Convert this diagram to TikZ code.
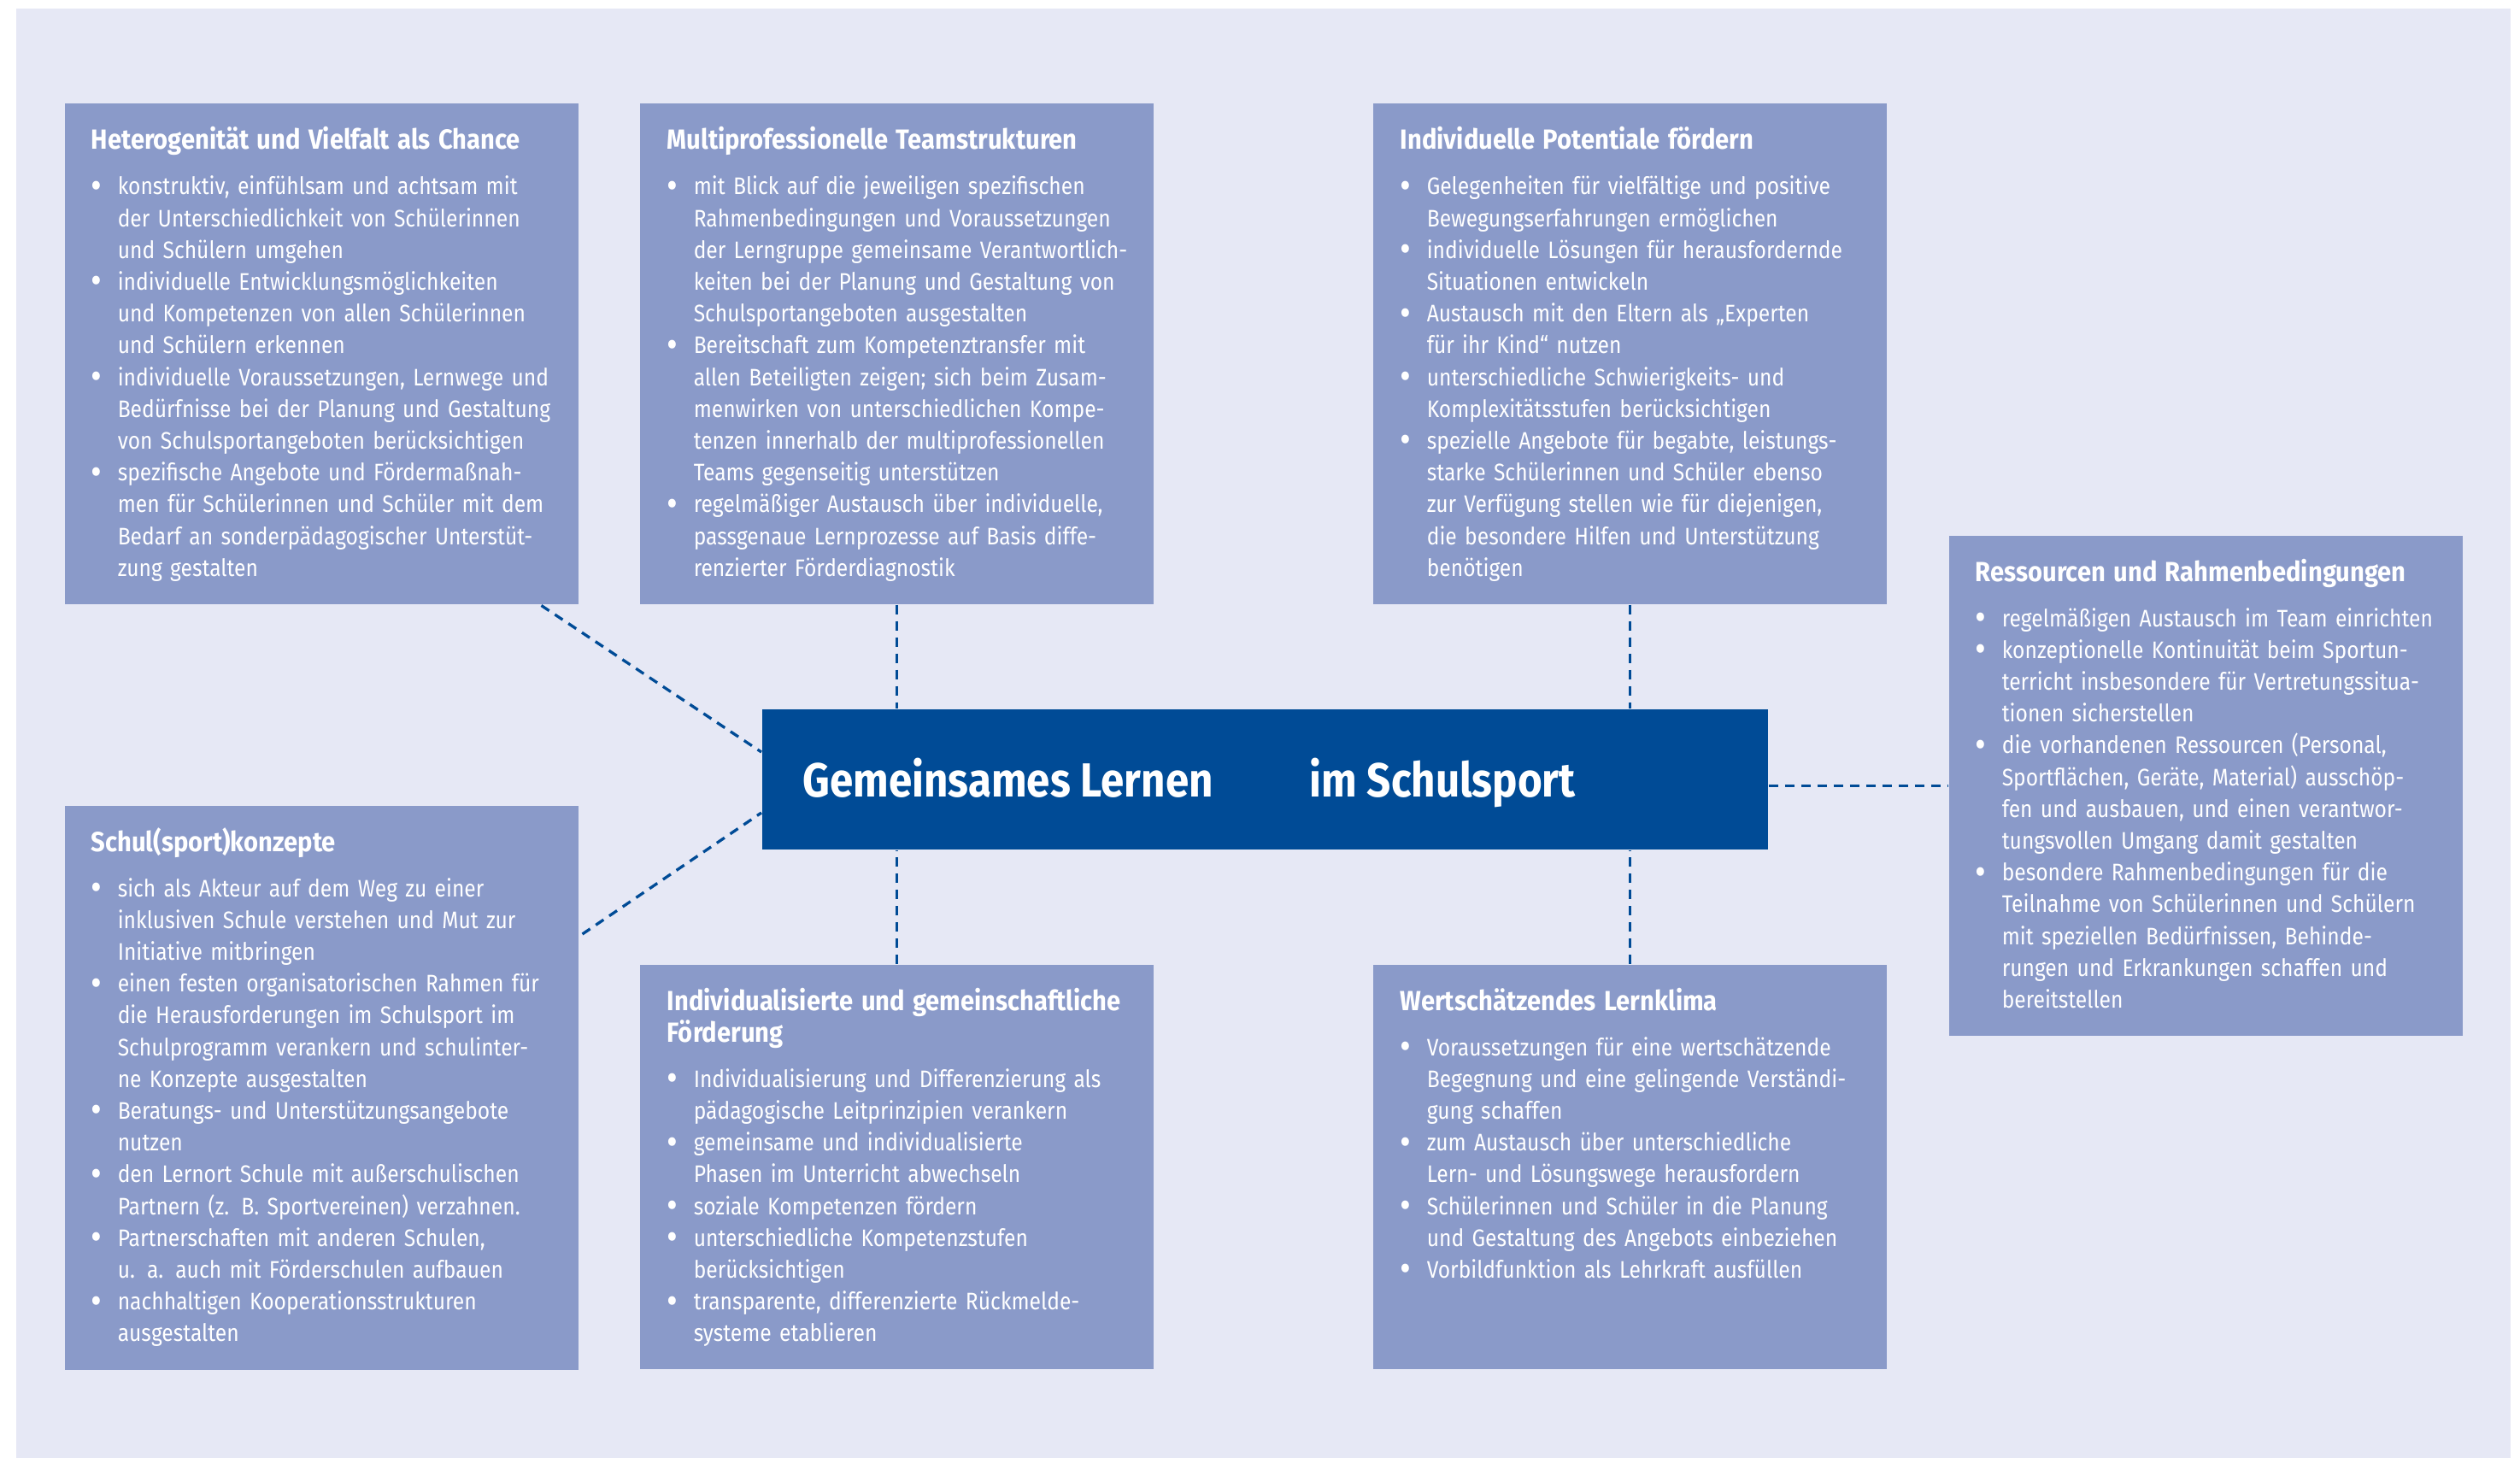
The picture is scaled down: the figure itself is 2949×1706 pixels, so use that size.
\documentclass[tikz,border=0pt]{standalone}
\usepackage{graphicx}
\usepackage{fontspec}
\setmainfont{Fira Sans}[FakeStretch=0.88]
\newfontfamily\titlefont{Fira Sans}[FakeStretch=0.9]
\newfontfamily\headfont{Fira Sans}[FakeStretch=0.88]
\usetikzlibrary{calc}

\definecolor{pagebg}{RGB}{230,232,245}
\definecolor{panelblue}{RGB}{138,154,201}
\definecolor{darkblue}{RGB}{0,75,150}

\newcommand{\paneltitle}[1]{{\fontsize{16.2}{18.6}\titlefont\bfseries #1\par}\vspace{7.9pt}}
\newcommand{\bpoint}[1]{\par\hangindent=15.5pt\hangafter=1\noindent
  \makebox[15.5pt][l]{\raisebox{-2.2pt}{\scalebox{1.6}{\textbullet}}}{\let\\\newline #1}\par}

\tikzset{every picture/.style={line width=0.75pt}}
\tikzset{
  panel/.style={fill=panelblue, anchor=north west, inner sep=0pt, minimum width=300.5pt},
  paneltext/.style={anchor=base west, inner sep=0pt, text width=300pt, align=left, text=white,
    font=\fontsize{14}{18.6}\selectfont},
  headtext/.style={anchor=base west, inner sep=0pt, text=white,
    font=\fontsize{28}{30}\headfont\bfseries},
  link/.style={draw=darkblue, line width=1.65pt, dash pattern=on 5.5pt off 4pt},
}

\begin{document}
\begin{tikzpicture}[x=0.5pt,y=0.5pt,yscale=-1,xscale=1]
\useasboundingbox (0,0) rectangle (2949,1706);

%Shape: Background
\fill[pagebg] (19,10) rectangle (2938,1706);

%Shape: Rectangle
\node[panel, minimum height=293pt] (hetero) at (75,120) {};
%Shape: Rectangle
\node[panel, minimum height=293pt] (team) at (748,120) {};
%Shape: Rectangle
\node[panel, minimum height=293pt] (potent) at (1606,120) {};
%Shape: Rectangle
\node[panel, minimum height=292.5pt] (ress) at (2280,626) {};
%Shape: Rectangle
\node[panel, minimum height=330pt] (konzept) at (75,942) {};
%Shape: Rectangle
\node[panel, minimum height=236.5pt] (foerd) at (748,1128) {};
%Shape: Rectangle
\node[panel, minimum height=236.5pt] (klima) at (1606,1128) {};

%Shape: Rectangle (centre)
\node[fill=darkblue, anchor=north west, inner sep=0pt, minimum width=588.5pt, minimum height=82pt] (gl) at (891,829) {};

%Straight Lines
\draw[link] ($(hetero.south east)+(-44,1)$) -- ($(gl.north west)+(0,51)$);
\draw[link] ($(konzept.north east)+(4,151)$) -- ($(gl.north west)+(0,122)$);
\draw[link] (team.south) -- (team.south |- gl.north);
\draw[link] (foerd.north) -- (foerd.north |- gl.south);
\draw[link] (potent.south) -- (potent.south |- gl.north);
\draw[link] (klima.north) -- (klima.north |- gl.south);
\draw[link] (gl.east |- ress.west) -- (ress.west);

% Text Node
\node[headtext] (gl-a) at (939,932) {Gemeinsames Lernen};
% Text Node
\node[headtext] (gl-b) at (1532,932) {im Schulsport};

% Text Node
\node[paneltext] (hetero-t) at (106,175) {\paneltitle{Heterogenität und Vielfalt als Chance}%
\bpoint{konstruktiv, einfühlsam und achtsam mit\\der Unterschiedlichkeit von Schülerinnen\\und Schülern umgehen}
\bpoint{individuelle Entwicklungsmöglichkeiten\\und Kompetenzen von allen Schülerinnen\\und Schülern erkennen}
\bpoint{individuelle Voraussetzungen, Lernwege und\\Bedürfnisse bei der Planung und Gestaltung\\von Schulsportangeboten berücksichtigen}
\bpoint{spezifische Angebote und Fördermaßnah-\\men für Schülerinnen und Schüler mit dem\\Bedarf an sonderpädagogischer Unterstüt-\\zung gestalten}};

% Text Node
\node[paneltext] (team-t) at (780,175) {\paneltitle{Multiprofessionelle Teamstrukturen}%
\bpoint{mit Blick auf die jeweiligen spezifischen\\Rahmenbedingungen und Voraussetzungen\\der Lerngruppe gemeinsame Verantwortlich-\\keiten bei der Planung und Gestaltung von\\Schulsportangeboten ausgestalten}
\bpoint{Bereitschaft zum Kompetenztransfer mit\\allen Beteiligten zeigen; sich beim Zusam-\\menwirken von unterschiedlichen Kompe-\\tenzen innerhalb der multiprofessionellen\\Teams gegenseitig unterstützen}
\bpoint{regelmäßiger Austausch über individuelle,\\passgenaue Lernprozesse auf Basis diffe-\\renzierter Förderdiagnostik}};

% Text Node
\node[paneltext] (potent-t) at (1638,175) {\paneltitle{Individuelle Potentiale fördern}%
\bpoint{Gelegenheiten für vielfältige und positive\\Bewegungserfahrungen ermöglichen}
\bpoint{individuelle Lösungen für herausfordernde\\Situationen entwickeln}
\bpoint{Austausch mit den Eltern als „Experten\\für ihr Kind“ nutzen}
\bpoint{unterschiedliche Schwierigkeits- und\\Komplexitätsstufen berücksichtigen}
\bpoint{spezielle Angebote für begabte, leistungs-\\starke Schülerinnen und Schüler ebenso\\zur Verfügung stellen wie für diejenigen,\\die besondere Hilfen und Unterstützung\\benötigen}};

% Text Node
\node[paneltext] (ress-t) at (2311,680) {\paneltitle{Ressourcen und Rahmenbedingungen}%
\bpoint{regelmäßigen Austausch im Team einrichten}
\bpoint{konzeptionelle Kontinuität beim Sportun-\\terricht insbesondere für Vertretungssitua-\\tionen sicherstellen}
\bpoint{die vorhandenen Ressourcen (Personal,\\Sportflächen, Geräte, Material) ausschöp-\\fen und ausbauen, und einen verantwor-\\tungsvollen Umgang damit gestalten}
\bpoint{besondere Rahmenbedingungen für die\\Teilnahme von Schülerinnen und Schülern\\mit speziellen Bedürfnissen, Behinde-\\rungen und Erkrankungen schaffen und\\bereitstellen}};

% Text Node
\node[paneltext] (konzept-t) at (106,996) {\paneltitle{Schul(sport)konzepte}%
\bpoint{sich als Akteur auf dem Weg zu einer\\inklusiven Schule verstehen und Mut zur\\Initiative mitbringen}
\bpoint{einen festen organisatorischen Rahmen für\\die Herausforderungen im Schulsport im\\Schulprogramm verankern und schulinter-\\ne Konzepte ausgestalten}
\bpoint{Beratungs- und Unterstützungsangebote\\nutzen}
\bpoint{den Lernort Schule mit außerschulischen\\Partnern (z. B. Sportvereinen) verzahnen.}
\bpoint{Partnerschaften mit anderen Schulen,\\u. a. auch mit Förderschulen aufbauen}
\bpoint{nachhaltigen Kooperationsstrukturen\\ausgestalten}};

% Text Node
\node[paneltext] (foerd-t) at (780,1182) {\paneltitle{Individualisierte und gemeinschaftliche\\Förderung}%
\bpoint{Individualisierung und Differenzierung als\\pädagogische Leitprinzipien verankern}
\bpoint{gemeinsame und individualisierte\\Phasen im Unterricht abwechseln}
\bpoint{soziale Kompetenzen fördern}
\bpoint{unterschiedliche Kompetenzstufen\\berücksichtigen}
\bpoint{transparente, differenzierte Rückmelde-\\systeme etablieren}};

% Text Node
\node[paneltext] (klima-t) at (1638,1182) {\paneltitle{Wertschätzendes Lernklima}%
\bpoint{Voraussetzungen für eine wertschätzende\\Begegnung und eine gelingende Verständi-\\gung schaffen}
\bpoint{zum Austausch über unterschiedliche\\Lern- und Lösungswege herausfordern}
\bpoint{Schülerinnen und Schüler in die Planung\\und Gestaltung des Angebots einbeziehen}
\bpoint{Vorbildfunktion als Lehrkraft ausfüllen}};
\end{tikzpicture}
\end{document}
